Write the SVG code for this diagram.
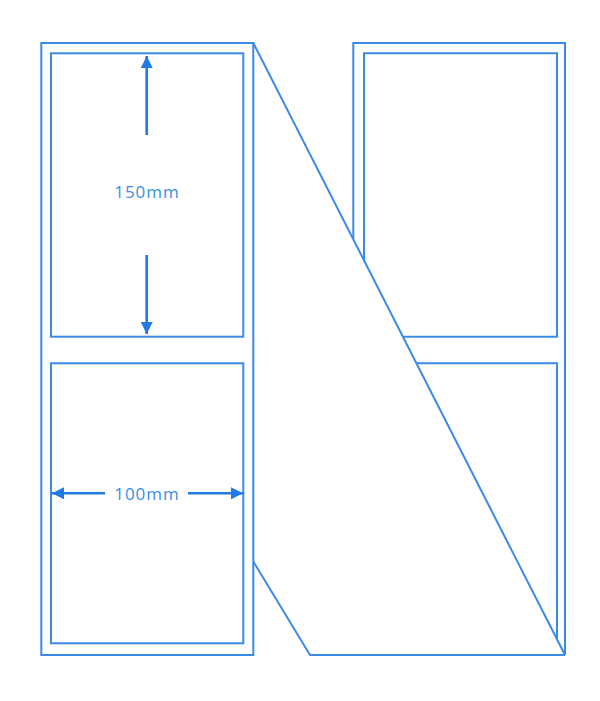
<svg xmlns="http://www.w3.org/2000/svg" width="600" height="701" viewBox="0 0 600 701">
<style>
.ln{fill:none;stroke:#3a8ae6;stroke-width:2;stroke-linejoin:miter}
.dim{stroke:#1f7ae3;stroke-width:2.6;fill:none}
.lbl{font-family:"Open Sans","Liberation Sans",sans-serif;font-size:17px;fill:#3a8ee6;text-anchor:middle;letter-spacing:1px}
</style>
<defs>
<marker id="ah" viewBox="0 0 10 10" refX="10" refY="5" markerWidth="12" markerHeight="12" markerUnits="userSpaceOnUse" orient="auto">
<path d="M0,0 L10,5 L0,10 z" fill="#1f7ae3"/>
</marker>
</defs>
<rect width="600" height="701" fill="#ffffff"/>
<g id="left-piece">
<rect class="ln" x="41.3" y="43" width="212" height="612"/>
<rect class="ln" x="51" y="53.3" width="192.3" height="283.4"/>
<rect class="ln" x="51" y="363.3" width="192.3" height="280"/>
</g>
<g id="right-piece">
<polyline class="ln" points="353.3,239 353.3,43 565,43 565,655"/>
<polyline class="ln" points="364,260.7 364,53.3 557,53.3 557,336.7 402.7,336.7"/>
<polyline class="ln" points="416.3,363.3 557,363.3 557,639.5"/>
</g>
<g id="connectors">
<line class="ln" x1="253.3" y1="43" x2="565" y2="655"/>
<polyline class="ln" points="253.3,561.5 310,655 565,655"/>
</g>
<g id="dimension-150">
<line class="dim" x1="146.7" y1="135" x2="146.7" y2="56" marker-end="url(#ah)"/>
<line class="dim" x1="146.7" y1="255" x2="146.7" y2="334" marker-end="url(#ah)"/>
<text class="lbl" x="147" y="198">150mm</text>
</g>
<g id="dimension-100">
<line class="dim" x1="105" y1="493.3" x2="52" y2="493.3" marker-end="url(#ah)"/>
<line class="dim" x1="188" y1="493.3" x2="243" y2="493.3" marker-end="url(#ah)"/>
<text class="lbl" x="147" y="499.5">100mm</text>
</g>
</svg>
